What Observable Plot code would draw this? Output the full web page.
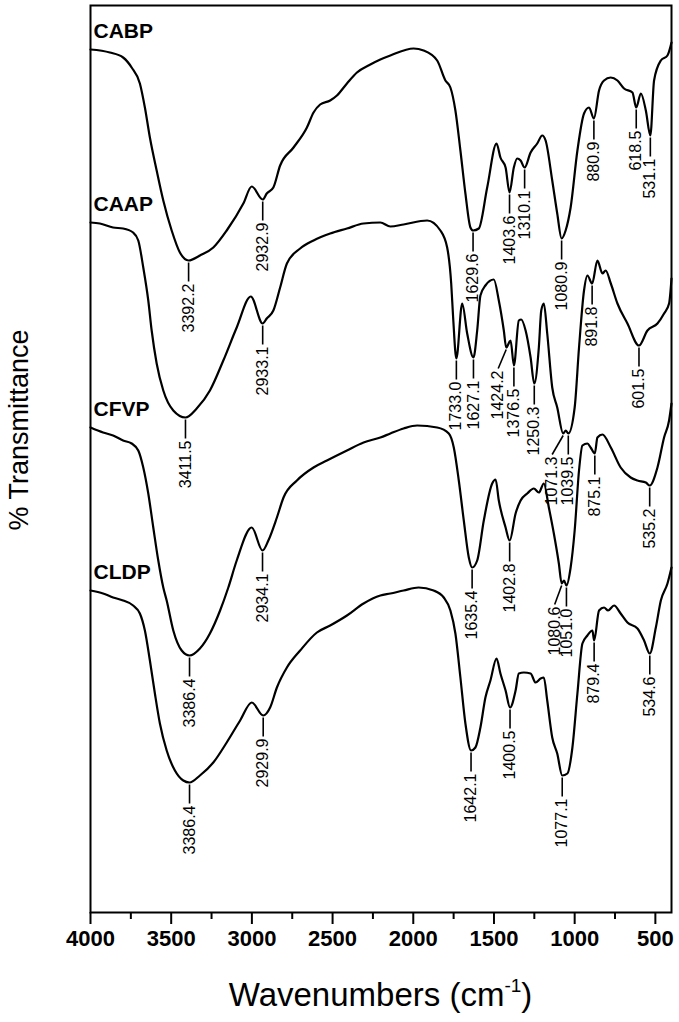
<!DOCTYPE html>
<html><head><meta charset="utf-8">
<script src="https://cdn.jsdelivr.net/npm/d3@7"></script>
<script src="https://cdn.jsdelivr.net/npm/@observablehq/plot@0.6"></script>
<style>body{margin:0;background:#fff;}</style>
</head><body><div id="chart"></div>
<script>
// ---- data: [wavenumber (cm-1), transmittance (arbitrary offset units)] ----
const seriesNames = ["CABP", "CAAP", "CFVP", "CLDP"];
const cabp = [[4000,86.3],[3880,86.0],[3798,85.5],[3745,84.5],[3694,82.9],[3663,80.5],[3632,77.5],[3590,74.2],[3549,71.2],[3497,68.2],[3446,66.0],[3392.2,65.2],[3322,65.7],[3239,66.5],[3156,68.2],[3053,70.9],[3001,72.6],[2932.9,71.3],[2908,71.9],[2867,72.5],[2825,74.7],[2742,76.5],[2659,78.5],[2618,80.0],[2577,80.8],[2515,81.2],[2473,81.7],[2411,82.9],[2349,84.0],[2266,84.8],[2204,85.3],[2142,85.7],[1998,86.4],[1936,86.2],[1852,85.2],[1801,83.2],[1770,82.5],[1739,80.2],[1708,76.2],[1677,71.9],[1646,68.5],[1629.6,68.2],[1594,68.4],[1542,72.5],[1484,76.9],[1460,75.5],[1428,74.5],[1403.6,72.0],[1377,74.5],[1356,75.4],[1335,75.2],[1310.1,74.5],[1273,76.0],[1232,76.9],[1201,77.7],[1180,77.2],[1139,73.2],[1108,69.9],[1080.9,67.4],[1056,68.2],[1025,70.5],[983,76.2],[942,79.9],[911,80.5],[880.9,79.4],[849,82.2],[818,83.2],[777,83.5],[735,83.2],[694,82.4],[642,82.0],[618.5,80.5],[590,81.9],[559,80.2],[531.1,77.7],[508,83.2],[466,85.2],[425,85.7],[400,87.0]];
const caap = [[4000,69.0],[3942,68.9],[3860,68.5],[3798,68.4],[3736,68.0],[3704,67.2],[3673,64.5],[3642,61.2],[3621,58.2],[3590,54.9],[3549,52.2],[3487,50.2],[3411.5,49.5],[3342,50.4],[3260,52.2],[3177,55.2],[3094,58.5],[3007,61.6],[2933.1,58.9],[2908,59.4],[2867,60.2],[2825,62.5],[2783,64.9],[2701,66.4],[2618,67.2],[2515,67.9],[2411,68.4],[2308,68.9],[2204,69.0],[2142,68.6],[2060,68.8],[1914,69.2],[1832,68.2],[1790,66.5],[1765,62.9],[1753,59.5],[1733.0,55.4],[1697,60.9],[1666,57.9],[1627.1,55.5],[1604,58.2],[1584,61.7],[1553,62.7],[1501,63.3],[1470,61.2],[1439,58.2],[1424.2,56.5],[1397,57.2],[1376.5,54.7],[1346,59.2],[1331,59.3],[1304,58.2],[1273,55.5],[1250.3,52.9],[1222,56.5],[1207,60.2],[1191,60.9],[1170,57.9],[1139,52.5],[1108,50.5],[1071.3,47.9],[1055,48.2],[1039.5,47.9],[1000,50.5],[973,56.5],[942,62.2],[921,63.7],[891.8,62.9],[859,65.2],[828,63.9],[808,64.2],[776,62.9],[735,60.9],[673,58.9],[601.5,56.7],[549,58.2],[487,58.9],[446,59.9],[415,60.9],[400,63.4]];
const cfvp = [[4000,48.5],[3922,48.0],[3860,47.7],[3798,47.2],[3745,46.9],[3704,46.2],[3673,44.5],[3642,41.9],[3611,38.5],[3580,35.2],[3549,32.5],[3528,31.2],[3487,28.2],[3435,26.2],[3386.4,25.7],[3322,26.4],[3260,27.9],[3197,30.2],[3146,32.5],[3094,35.2],[3001,38.5],[2934.1,36.2],[2898,37.2],[2845,39.5],[2804,41.5],[2721,43.2],[2618,44.5],[2535,45.2],[2411,46.2],[2308,47.0],[2204,47.5],[2142,47.9],[2060,48.4],[1976,48.7],[1852,48.5],[1780,47.9],[1749,46.5],[1718,43.2],[1687,39.2],[1656,35.5],[1635.4,34.5],[1604,35.2],[1563,39.2],[1511,42.9],[1490,43.3],[1470,41.2],[1428,38.5],[1402.8,37.2],[1366,39.9],[1335,41.2],[1294,41.9],[1253,42.4],[1222,42.0],[1191,42.9],[1160,40.5],[1129,37.9],[1098,34.9],[1080.6,32.9],[1066,33.2],[1051.0,32.7],[1025,34.5],[1000,38.2],[973,44.2],[952,46.7],[921,46.9],[901,46.5],[875.1,45.9],[859,47.5],[828,47.8],[776,46.5],[715,44.5],[653,43.5],[611,43.2],[559,43.0],[535.2,42.7],[487,44.5],[446,47.5],[415,49.2],[400,50.9]];
const cldp = [[4000,32.2],[3922,31.9],[3860,31.5],[3798,31.2],[3736,30.7],[3694,29.9],[3663,28.2],[3632,25.2],[3601,21.9],[3570,18.9],[3528,16.2],[3477,14.2],[3425,13.2],[3386.4,13.0],[3322,13.7],[3239,15.0],[3156,17.0],[3073,19.2],[3001,21.0],[2929.9,19.7],[2887,20.5],[2845,22.5],[2783,24.5],[2701,26.2],[2597,28.0],[2515,28.7],[2411,29.7],[2308,30.9],[2204,31.7],[2142,31.9],[2060,32.2],[1967,32.5],[1874,32.2],[1811,31.5],[1770,30.2],[1739,27.9],[1708,23.5],[1677,18.9],[1642.1,16.2],[1615,16.5],[1584,18.5],[1553,21.5],[1522,23.2],[1484,25.4],[1460,23.9],[1428,22.2],[1400.5,20.5],[1366,22.2],[1346,23.9],[1315,24.0],[1273,23.9],[1242,23.0],[1211,23.4],[1191,23.5],[1170,21.2],[1139,17.5],[1108,15.9],[1077.1,13.7],[1045,13.9],[1014,16.5],[983,21.9],[952,26.9],[921,27.7],[890,28.2],[879.4,27.2],[849,30.2],[818,30.5],[793,30.2],[756,30.7],[715,29.9],[673,29.0],[611,28.4],[570,27.2],[534.6,25.9],[497,28.5],[466,31.2],[425,32.9],[400,34.5]];

// peak annotations (wavenumbers of labelled bands)
const cabpPeaks = [3392.2, 2932.9, 1629.6, 1403.6, 1310.1, 1080.9, 880.9, 618.5, 531.1];
const caapPeaks = [3411.5, 2933.1, 1733.0, 1627.1, 1424.2, 1376.5, 1250.3, 1071.3, 1039.5, 891.8, 601.5];
const cfvpPeaks = [3386.4, 2934.1, 1635.4, 1402.8, 1080.6, 1051.0, 875.1, 535.2];
const cldpPeaks = [3386.4, 2929.9, 1642.1, 1400.5, 1077.1, 879.4, 534.6];

const majorTicks = [4000, 3500, 3000, 2500, 2000, 1500, 1000, 500];
const minorTicks = [3750, 3250, 2750, 2250, 1750, 1250, 750];

// ---- layout / styles ----
const W = 679, H = 1022, mL = 90, mR = 8, mT = 5, mB = 110;
const xDomain = [4000, 400], yDomain = [0, 90.7];
const kx = (W - mL - mR) / (xDomain[0] - xDomain[1]);
const ky = (H - mT - mB) / (yDomain[1] - yDomain[0]);
const leaderShift = {"CAAP 1424.2": -8, "CAAP 1071.3": -11, "CFVP 1080.6": -7}; // px
const FONT = "'Liberation Sans', Arial, Helvetica, sans-serif";

const spectra = [cabp, caap, cfvp, cldp];
const peaks = [cabpPeaks, caapPeaks, cfvpPeaks, cldpPeaks];
const data = seriesNames.flatMap((name, i) => spectra[i].map(([wn, t]) => ({name, wn, t})));
const ann = seriesNames.flatMap((name, i) => peaks[i].map(wn => {
  const pt = spectra[i].reduce((a, b) => Math.abs(b[0] - wn) < Math.abs(a[0] - wn) ? b : a);
  const shift = leaderShift[name + " " + wn.toFixed(1)] || 0;
  return {name, wn, t: pt[1], label: wn.toFixed(1), wnEnd: wn - shift / kx};
}));
const firsts = seriesNames.map((name, i) => ({name, wn: spectra[i][0][0], t: spectra[i][0][1]}));

const chart = Plot.plot({
  width: W, height: H,
  marginLeft: mL, marginRight: mR, marginTop: mT, marginBottom: mB,
  x: {domain: xDomain, label: null},
  y: {domain: yDomain, axis: null},
  style: {fontFamily: FONT, color: "black", background: "white"},
  marks: [
    Plot.axisX({ticks: majorTicks, tickSize: 12, tickPadding: 6, tickFormat: d => String(d), fontSize: 22, fontWeight: "bold", strokeWidth: 2, label: null}),
    Plot.axisX({ticks: minorTicks, tickSize: 7, tickFormat: () => "", strokeWidth: 2, label: null}),
    Plot.line(data, {x: "wn", y: "t", z: "name", stroke: "black", strokeWidth: 2.2, curve: "monotone-x"}),
    Plot.link(ann, {x1: "wn", y1: d => d.t - 2 / ky, x2: "wnEnd", y2: d => d.t - 21 / ky, stroke: "black", strokeWidth: 1.6}),
    Plot.text(ann, {x: "wnEnd", y: d => d.t - 23 / ky, text: "label", rotate: -90, textAnchor: "end", lineAnchor: "middle", fontSize: 16, fill: "black"}),
    Plot.text(firsts, {x: "wn", y: "t", text: "name", textAnchor: "start", lineAnchor: "bottom", dx: 3, dy: -12, fontSize: 21, fontWeight: "bold", fill: "black"}),
    Plot.frame({stroke: "black", strokeWidth: 2})
  ]
});
document.getElementById("chart").appendChild(chart);

// axis titles
const svg = d3.select(chart);
svg.append("text")
  .attr("transform", "translate(28,430) rotate(-90)")
  .attr("text-anchor", "middle")
  .attr("font-family", FONT).attr("font-size", 27).attr("fill", "black")
  .text("% Transmittance");
const xt = svg.append("text")
  .attr("x", (mL + W - mR) / 2).attr("y", 1006)
  .attr("text-anchor", "middle")
  .attr("font-family", FONT).attr("font-size", 33).attr("fill", "black");
xt.append("tspan").text("Wavenumbers (cm");
xt.append("tspan").attr("dy", -14).attr("font-size", 19).text("-1");
xt.append("tspan").attr("dy", 14).text(")");
</script>
</body></html>
